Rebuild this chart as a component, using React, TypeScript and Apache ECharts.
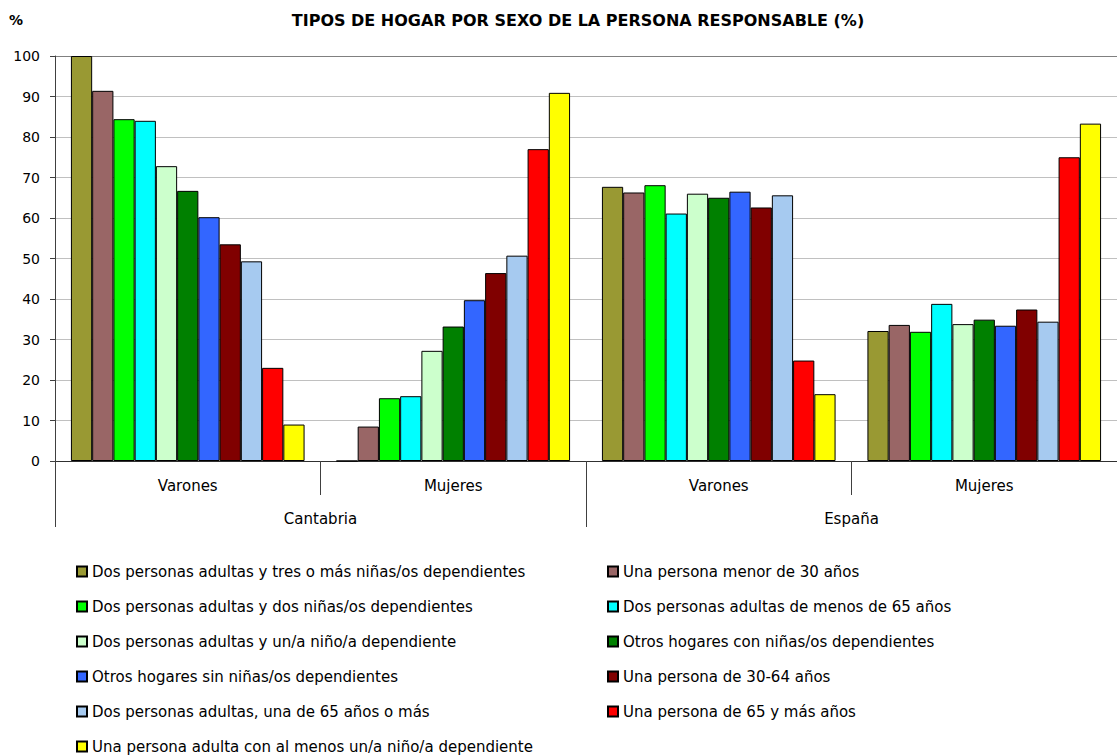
import React, { useEffect, useRef } from 'react';
import * as echarts from 'echarts';

const groupLabels = ['Varones', 'Mujeres', 'Varones', 'Mujeres'];
const regionLabels = ['Cantabria', 'España'];

const seriesNames = [
  'Dos personas adultas y tres o más niñas/os dependientes',
  'Una persona menor de 30 años',
  'Dos personas adultas y dos niñas/os dependientes',
  'Dos personas adultas de menos de 65 años',
  'Dos personas adultas y un/a niño/a dependiente',
  'Otros hogares con niñas/os dependientes',
  'Otros hogares sin niñas/os dependientes',
  'Una persona de 30-64 años',
  'Dos personas adultas, una de 65 años o más',
  'Una persona de 65 y más años',
  'Una persona adulta con al menos un/a niño/a dependiente',
];

const seriesColors = [
  '#999933', '#996666', '#00FF00', '#00FFFF', '#CCFFCC', '#008000',
  '#3366FF', '#800000', '#A6CAF0', '#FF0000', '#FFFF00',
];

const cantabriaVarones = [100, 91.4, 84.4, 84.0, 72.8, 66.7, 60.2, 53.5, 49.3, 23.0, 9.0];
const cantabriaMujeres = [0, 8.5, 15.5, 16.0, 27.2, 33.2, 39.7, 46.4, 50.7, 77.0, 90.9];
const espanaVarones = [67.7, 66.3, 68.1, 61.1, 66.0, 65.0, 66.5, 62.6, 65.6, 24.8, 16.5];
const espanaMujeres = [32.1, 33.6, 31.9, 38.8, 33.8, 34.9, 33.4, 37.4, 34.4, 75.0, 83.3];

const FONT = 'DejaVu Sans';

export default function App() {
  const ref = useRef<HTMLDivElement>(null);
  useEffect(() => {
    if (!ref.current) return;
    const chart = echarts.init(ref.current, undefined, { renderer: 'svg' });
    const groupsData = [cantabriaVarones, cantabriaMujeres, espanaVarones, espanaMujeres];
    const series = seriesNames.map((name, i) => ({
      name,
      type: 'bar',
      xAxisIndex: 0,
      data: groupsData.map((g) => g[i]),
      barGap: '0%',
      barCategoryGap: '12%',
      itemStyle: { color: seriesColors[i], borderColor: '#000', borderWidth: 1 },
    }));
    const leftNames = seriesNames.filter((_, i) => i % 2 === 0);
    const rightNames = seriesNames.filter((_, i) => i % 2 === 1);
    const legendCommon = {
      orient: 'vertical',
      icon: 'rect',
      itemWidth: 10,
      itemHeight: 10,
      itemGap: 20,
      padding: 0,
      top: 564,
      height: 200,
      textStyle: { fontFamily: FONT, fontSize: 15, color: '#000' },
      selectedMode: false,
    };
    const splitColors = ['#C0C0C0', '#C0C0C0', '#C0C0C0', '#C0C0C0', '#C0C0C0', '#C0C0C0', '#C0C0C0', '#C0C0C0', '#C0C0C0', '#C0C0C0', '#808080'];
    chart.setOption({
      animation: false,
      backgroundColor: '#fff',
      title: [
        {
          text: 'TIPOS DE HOGAR POR SEXO DE LA PERSONA RESPONSABLE (%)',
          left: 578,
          top: 12,
          padding: 0,
          textAlign: 'center',
          textStyle: { fontFamily: FONT, fontSize: 16, fontWeight: 'bold', color: '#000' },
        },
        {
          text: '%',
          left: 9,
          top: 13,
          padding: 0,
          textStyle: { fontFamily: FONT, fontSize: 14, fontWeight: 'bold', color: '#000' },
        },
      ],
      legend: [
        { ...legendCommon, left: 76, data: leftNames },
        { ...legendCommon, left: 607, data: rightNames },
      ],
      grid: { left: 55, right: -10, top: 56, bottom: 295, containLabel: false },
      xAxis: [
        {
          type: 'category',
          data: groupLabels,
          position: 'bottom',
          axisLine: { lineStyle: { color: '#303030', width: 1 } },
          axisTick: { show: true, length: 34, interval: 0, lineStyle: { color: '#404040' } },
          axisLabel: { interval: 0, margin: 17, fontFamily: FONT, fontSize: 15, color: '#000' },
        },
        {
          type: 'category',
          data: regionLabels,
          position: 'bottom',
          axisLine: { show: false },
          axisTick: { show: true, length: 66, interval: 0, lineStyle: { color: '#404040' } },
          axisLabel: { interval: 0, margin: 50, fontFamily: FONT, fontSize: 15, color: '#000' },
        },
      ],
      yAxis: {
        type: 'value',
        min: 0,
        max: 100,
        interval: 10,
        axisLine: { show: true, lineStyle: { color: '#404040' } },
        axisTick: { show: true, length: 5, lineStyle: { color: '#404040' } },
        axisLabel: { margin: 15, fontFamily: FONT, fontSize: 14, color: '#000' },
        splitLine: { show: true, lineStyle: { color: splitColors, width: 1 } },
      },
      series,
    });
    return () => chart.dispose();
  }, []);
  return (
    <div
      ref={ref}
      style={{ position: 'fixed', left: 0, top: 0, width: 1117, height: 756, background: '#fff' }}
    />
  );
}
